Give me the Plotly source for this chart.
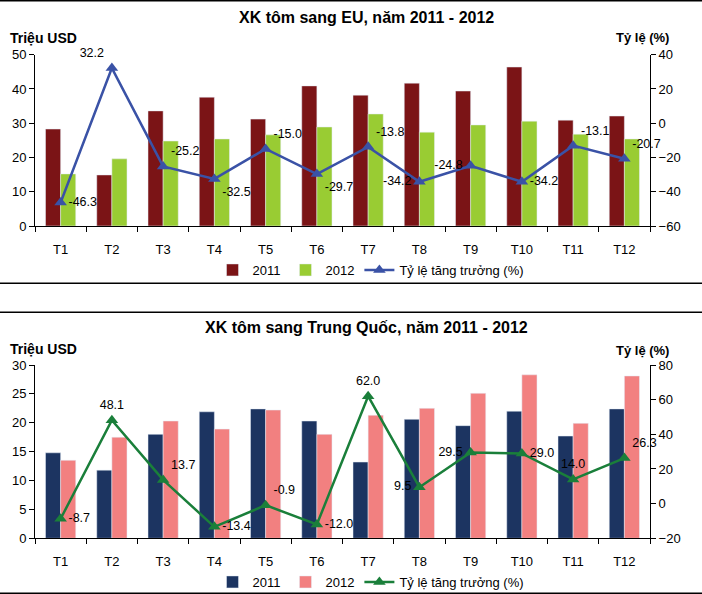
import plotly.graph_objects as go

months = ["T1", "T2", "T3", "T4", "T5", "T6", "T7", "T8", "T9", "T10", "T11", "T12"]

eu_2011 = [28.3, 14.9, 33.6, 37.6, 31.2, 40.9, 38.2, 41.7, 39.4, 46.4, 30.9, 32.1]
eu_2012 = [15.2, 19.6, 24.8, 25.4, 26.6, 28.9, 32.7, 27.4, 29.5, 30.6, 26.8, 25.4]
eu_growth = [-46.3, 32.2, -25.2, -32.5, -15.0, -29.7, -13.8, -34.2, -24.8, -34.2, -13.1, -20.7]
eu_label_pos = ["middle right", "top left", "top right", "bottom right", "top right", "bottom right",
                "top right", "middle left", "middle left", "middle right", "top right", "top right"]

cn_2011 = [14.8, 11.8, 18.0, 21.9, 22.4, 20.3, 13.2, 20.6, 19.5, 22.0, 17.7, 22.4]
cn_2012 = [13.5, 17.5, 20.3, 18.9, 22.2, 18.0, 21.3, 22.5, 25.1, 28.3, 19.9, 28.1]
cn_growth = [-8.7, 48.1, 13.7, -13.4, -0.9, -12.0, 62.0, 9.5, 29.5, 29.0, 14.0, 26.3]
cn_label_pos = ["middle right", "top center", "top right", "middle right", "top right", "middle right",
                "top center", "middle left", "middle left", "middle right", "top center", "top right"]

FONT = "Liberation Sans, Arial, sans-serif"
W, H = 702, 594

fig = go.Figure()

# EU chart
fig.add_trace(go.Bar(x=months, y=eu_2011, name="2011", marker_color="#7B1416",
                     xaxis="x", yaxis="y", legend="legend"))
fig.add_trace(go.Bar(x=months, y=eu_2012, name="2012", marker_color="#99CC33",
                     xaxis="x", yaxis="y", legend="legend"))
fig.add_trace(go.Scatter(x=months, y=eu_growth, name="Tỷ lệ tăng trưởng (%)",
                         mode="lines+markers+text", text=[f"{v:.1f}" for v in eu_growth],
                         textposition=eu_label_pos, textfont=dict(size=12.5, color="#000"),
                         line=dict(color="#3A52A6", width=2.5),
                         marker=dict(symbol="triangle-up", size=11, color="#3A52A6"),
                         xaxis="x", yaxis="y2", legend="legend", cliponaxis=False))

# China chart
fig.add_trace(go.Bar(x=months, y=cn_2011, name="2011", marker_color="#1C3461",
                     xaxis="x2", yaxis="y3", legend="legend2"))
fig.add_trace(go.Bar(x=months, y=cn_2012, name="2012", marker_color="#F28080",
                     xaxis="x2", yaxis="y3", legend="legend2"))
fig.add_trace(go.Scatter(x=months, y=cn_growth, name="Tỷ lệ tăng trưởng (%)",
                         mode="lines+markers+text", text=[f"{v:.1f}" for v in cn_growth],
                         textposition=cn_label_pos, textfont=dict(size=12.5, color="#000"),
                         line=dict(color="#1A7F3A", width=2.5),
                         marker=dict(symbol="triangle-up", size=11, color="#1A7F3A"),
                         xaxis="x2", yaxis="y4", legend="legend2", cliponaxis=False))

xdom = [35 / W, 650 / W]
top_dom = [(H - 226) / H, (H - 54.7) / H]
bot_dom = [(H - 538.3) / H, (H - 365) / H]
xrange = [-0.5, len(months) - 0.5]

axis_common = dict(showline=True, linecolor="#000", linewidth=1, showgrid=False, zeroline=False,
                   ticks="outside", ticklen=5, tickcolor="#000", automargin=False,
                   tickfont=dict(size=13, color="#000", family=FONT))

fig.update_layout(
    width=W, height=H, margin=dict(l=0, r=0, t=0, b=0, autoexpand=False),
    paper_bgcolor="white", plot_bgcolor="white",
    font=dict(family=FONT, size=13, color="#000"),
    barmode="group", bargap=0.41, bargroupgap=0,
    xaxis=dict(domain=xdom, anchor="y", type="category", tickson="boundaries", range=xrange,
               ticklabelstandoff=11, **axis_common),
    yaxis=dict(domain=top_dom, anchor="x", range=[0, 50], dtick=10, **axis_common),
    yaxis2=dict(overlaying="y", side="right", anchor="x", range=[-60, 40], dtick=20, **axis_common),
    xaxis2=dict(domain=xdom, anchor="y3", type="category", tickson="boundaries", range=xrange,
                ticklabelstandoff=11, **axis_common),
    yaxis3=dict(domain=bot_dom, anchor="x2", range=[0, 30], dtick=5, **axis_common),
    yaxis4=dict(overlaying="y3", side="right", anchor="x2", range=[-20, 80], dtick=20, **axis_common),
    legend=dict(orientation="h", x=371 / W, xanchor="center", y=(H - 270) / H, yanchor="middle",
                font=dict(size=13), tracegroupgap=0, bgcolor="rgba(0,0,0,0)"),
    legend2=dict(orientation="h", x=371 / W, xanchor="center", y=(H - 582) / H, yanchor="middle",
                 font=dict(size=13), tracegroupgap=0, bgcolor="rgba(0,0,0,0)"),
    showlegend=True,
)

annotations = [
    dict(text="<b>XK tôm sang EU, năm 2011 - 2012</b>", x=366 / W, y=(H - 17) / H, font=dict(size=16)),
    dict(text="<b>Triệu USD</b>", x=8 / W, y=(H - 38) / H, xanchor="left", font=dict(size=14)),
    dict(text="<b>Tỷ lệ (%)</b>", x=671 / W, y=(H - 37) / H, xanchor="right", font=dict(size=13)),
    dict(text="<b>XK tôm sang Trung Quốc, năm 2011 - 2012</b>", x=366 / W, y=(H - 327) / H, font=dict(size=16)),
    dict(text="<b>Triệu USD</b>", x=8 / W, y=(H - 349) / H, xanchor="left", font=dict(size=14)),
    dict(text="<b>Tỷ lệ (%)</b>", x=671 / W, y=(H - 351) / H, xanchor="right", font=dict(size=13)),
]
for a in annotations:
    a.update(xref="paper", yref="paper", showarrow=False, yanchor="middle")
    a.setdefault("xanchor", "center")
fig.update_layout(annotations=annotations)

for yy in [H - 0.8, H - 283.3, H - 312.3, 0.8]:
    fig.add_shape(type="line", xref="paper", yref="paper", x0=0, x1=1, y0=yy / H, y1=yy / H,
                  line=dict(color="#000", width=1.6))

fig.write_html("out.html")
